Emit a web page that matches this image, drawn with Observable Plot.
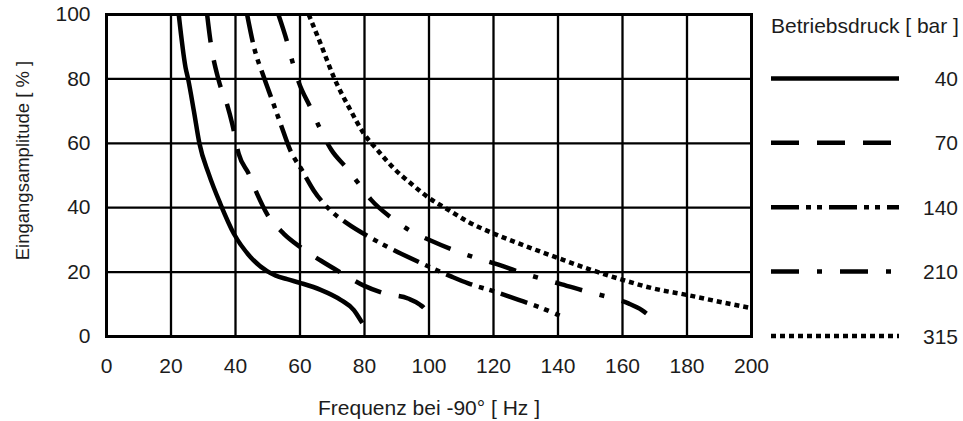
<!DOCTYPE html>
<html>
<head>
<meta charset="utf-8">
<script src="https://cdn.jsdelivr.net/npm/d3@7"></script>
<script src="https://cdn.jsdelivr.net/npm/@observablehq/plot@0.6"></script>
<style>
  html, body { margin: 0; padding: 0; background: #fff; }
  #wrap { position: relative; width: 963px; height: 421px; }
  #wrap svg { display: block; }
  #legend { position: absolute; left: 0; top: 0; pointer-events: none; }
</style>
</head>
<body>
<div id="wrap"></div>
<script>
// ---- data ----
const pressures = ["40", "70", "140", "210", "315"];
const legendTitle = "Betriebsdruck [ bar ]";
const xLabel = "Frequenz bei -90° [ Hz ]";
const yLabel = "Eingangsamplitude [ % ]";
const xTicks = [0, 20, 40, 60, 80, 100, 120, 140, 160, 180, 200];
const yTicks = [0, 20, 40, 60, 80, 100];

const freq40 = [22.4, 24.5, 25.3, 27.1, 28.8, 31.7, 35.3, 39.5, 44.7, 49.8, 52.5, 56, 60.2, 66.4, 72.6, 76.7, 78.2, 79.3];
const amp40  = [100, 83.6, 80, 70, 60, 50.5, 41.2, 31.9, 24.6, 20.3, 18.9, 17.8, 16.6, 14.5, 11.4, 8.2, 6, 4.2];

const freq70 = [31.2, 32.2, 34.8, 37.4, 39, 41, 44.1, 46.7, 49.8, 55, 60.2, 66.4, 73.6, 79.8, 86.5, 93.5, 97, 99, 99.5];
const amp70  = [100, 92, 79.5, 72, 66, 56.7, 50.5, 44.3, 38, 31.9, 27.7, 23.6, 19.3, 15.8, 13.3, 11.8, 10, 8, 6];

const freq140 = [43.6, 45.7, 48.8, 51.4, 54, 57, 60.7, 64.3, 69.5, 74.4, 81.5, 87.2, 98, 107, 112.2, 120.5, 127.8, 135, 140.5];
const amp140  = [100, 90, 80.5, 73.3, 66, 57.8, 51.5, 45.3, 39.1, 35.3, 30.9, 27.8, 22.6, 18.6, 16.5, 13.9, 11.4, 8.8, 6.5];

const freq210 = [53.3, 56, 57.6, 59.6, 63.3, 66, 69.7, 74.4, 78.2, 82, 88.7, 94.2, 100.5, 107.7, 114.3, 120.5, 128.8, 135, 141.2, 149.5, 155.8, 162, 166, 169.2];
const amp210  = [100, 91.5, 85.5, 79, 71, 65, 58, 52.4, 47.5, 42.5, 36.6, 32.8, 29.8, 26.8, 24.5, 22.6, 19.8, 17.9, 16.2, 13.8, 12.2, 10.2, 8.2, 5.7];

const freq315 = [62.7, 66.4, 70.5, 75.7, 79.8, 84.1, 89.2, 94.4, 100.3, 106.2, 111.8, 120, 127.8, 140.2, 150, 160, 169.2, 180, 190, 200];
const amp315  = [100, 90.9, 80.5, 70.2, 63, 57.8, 52.1, 47.5, 42.8, 39.2, 35.8, 32, 28.9, 24.3, 20.8, 17.6, 15, 12.9, 10.8, 8.8];

// ---- styles ----
const dashes = ["none", "28,18", "28,7,5,6,5,7", "28,18,5,18", "5,4"];
const series = [
  [freq40, amp40], [freq70, amp70], [freq140, amp140], [freq210, amp210], [freq315, amp315]
].map(([f, a]) => f.map((v, i) => ({f: v, a: a[i]})));

const font = "'Liberation Sans', Arial, Helvetica, sans-serif";
const ink = "#1c1c1c";

const chart = Plot.plot({
  width: 963,
  height: 421,
  marginLeft: 106,
  marginRight: 212,
  marginTop: 14,
  marginBottom: 85,
  style: {fontFamily: font, fontSize: "21px", color: ink, background: "#fff", overflow: "visible"},
  x: {domain: [0, 200]},
  y: {domain: [0, 100]},
  marks: [
    Plot.gridX(xTicks, {stroke: "#000", strokeOpacity: 1, strokeWidth: 2.3}),
    Plot.gridY(yTicks, {stroke: "#000", strokeOpacity: 1, strokeWidth: 2.3}),
    ...series.map((s, i) => Plot.line(s, {
      x: "f", y: "a", stroke: "#000", strokeWidth: 4.5,
      strokeDasharray: dashes[i] === "none" ? undefined : dashes[i],
      strokeLinecap: "butt", curve: "monotone-x", clip: true
    })),
    Plot.frame({stroke: "#000", strokeWidth: 3}),
    Plot.axisX({ticks: xTicks, tickSize: 0, tickPadding: 22, tickFormat: d => String(d),
      label: null, fontSize: 21}),
    Plot.axisY({ticks: yTicks, tickSize: 0, tickPadding: 16, tickFormat: d => String(d),
      label: null, fontSize: 21}),
    Plot.text([xLabel], {text: d => d, frameAnchor: "bottom", dy: 71.5, lineAnchor: "middle",
      textAnchor: "middle", fontSize: 21, fill: ink}),
    Plot.text([yLabel], {text: d => d, frameAnchor: "left", rotate: -90, dx: -83.5, dy: -15,
      textAnchor: "middle", lineAnchor: "middle", fontSize: 18.5, fill: ink})
  ]
});

const wrap = document.getElementById("wrap");
wrap.appendChild(chart);

// ---- legend (rows aligned with the chart's own y scale) ----
const yScale = chart.scale("y");
const lg = d3.select(wrap).append("svg")
  .attr("id", "legend").attr("width", 963).attr("height", 421)
  .style("font-family", font).style("font-size", "21px");

lg.append("text").attr("x", 771).attr("y", 33).attr("fill", ink).text(legendTitle);

pressures.forEach((p, i) => {
  const yy = yScale.apply(80 - 20 * i);
  lg.append("line")
    .attr("x1", 771).attr("x2", 899).attr("y1", yy).attr("y2", yy)
    .attr("stroke", "#000").attr("stroke-width", 4.5)
    .attr("stroke-dasharray", dashes[i] === "none" ? null : dashes[i]);
  lg.append("text").attr("x", 958).attr("y", yy).attr("dy", "0.36em")
    .attr("text-anchor", "end").attr("fill", ink).text(p);
});
</script>
</body>
</html>
